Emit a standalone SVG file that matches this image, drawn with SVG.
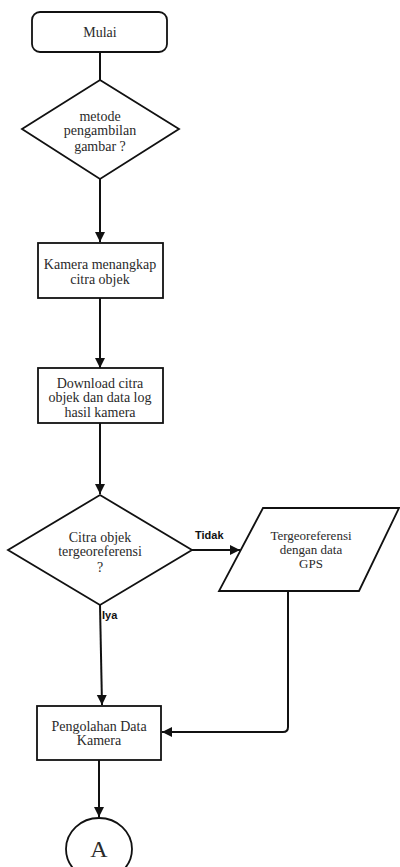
<svg xmlns="http://www.w3.org/2000/svg" width="400" height="867" viewBox="0 0 400 867">
<style>
.shape{fill:#fff;stroke:#111;stroke-width:1.8}
.t{font-family:"Liberation Serif","Times New Roman",serif;font-size:14px;fill:#2a2a2a;text-anchor:middle}
.lbl{font-family:"Liberation Sans",Arial,sans-serif;font-size:11px;font-weight:bold;fill:#111}
.c{fill:none;stroke:#111;stroke-width:2}
</style>
<defs>
<marker id="ah" viewBox="0 0 10 10" refX="10" refY="5" markerWidth="10" markerHeight="11" markerUnits="userSpaceOnUse" orient="auto">
<path d="M0,0 L10,5 L0,10 Z" fill="#111"/>
</marker>
</defs>
<rect width="400" height="867" fill="#fff"/>
<g id="connectors">
<path class="c" d="M100,52 V80"/>
<path class="c" d="M100,179 V242" marker-end="url(#ah)"/>
<path class="c" d="M100,298 V368" marker-end="url(#ah)"/>
<path class="c" d="M100,423 V494" marker-end="url(#ah)"/>
<path class="c" d="M192,550 H240" marker-end="url(#ah)"/>
<path class="c" d="M100,605 L102,705" marker-end="url(#ah)"/>
<path class="c" d="M288,591 V727 Q288,732 283,732 H162" marker-end="url(#ah)"/>
<path class="c" d="M99,760 V817" marker-end="url(#ah)"/>
</g>
<g id="mulai">
<rect class="shape" x="32" y="12" width="135" height="40" rx="8"/>
<text class="t" x="100" y="37">Mulai</text>
</g>
<g id="metode">
<polygon class="shape" points="100,80 179,129 100,179 22,129"/>
<text class="t" x="100" y="121">metode</text>
<text class="t" x="100" y="135">pengambilan</text>
<text class="t" x="100" y="151">gambar ?</text>
</g>
<g id="kamera">
<rect class="shape" x="38" y="243" width="125" height="55"/>
<text class="t" x="100" y="269">Kamera menangkap</text>
<text class="t" x="100" y="284">citra objek</text>
</g>
<g id="download">
<rect class="shape" x="38" y="368" width="125" height="55"/>
<text class="t" x="100" y="388">Download citra</text>
<text class="t" x="100" y="402">objek dan data log</text>
<text class="t" x="100" y="417">hasil kamera</text>
</g>
<g id="citra">
<polygon class="shape" points="100,495 192,550 100,605 8,550"/>
<text class="t" x="100" y="542">Citra objek</text>
<text class="t" x="100" y="556">tergeoreferensi</text>
<text class="t" x="100" y="572">?</text>
</g>
<g id="gps">
<polygon class="shape" points="263,508 399,508 359,591 219,591"/>
<text class="t" x="311" y="540" style="font-size:13px">Tergeoreferensi</text>
<text class="t" x="311" y="554" style="font-size:13px">dengan data</text>
<text class="t" x="311" y="568" style="font-size:13px">GPS</text>
</g>
<text class="lbl" x="195" y="539">Tidak</text>
<text class="lbl" x="102" y="619">Iya</text>
<g id="pengolahan">
<rect class="shape" x="37" y="706" width="124" height="54"/>
<text class="t" x="99" y="731">Pengolahan Data</text>
<text class="t" x="99" y="745">Kamera</text>
</g>
<g id="a">
<ellipse class="shape" cx="99" cy="849" rx="33" ry="31"/>
<text class="t" x="99" y="857" style="font-size:24px">A</text>
</g>
</svg>
